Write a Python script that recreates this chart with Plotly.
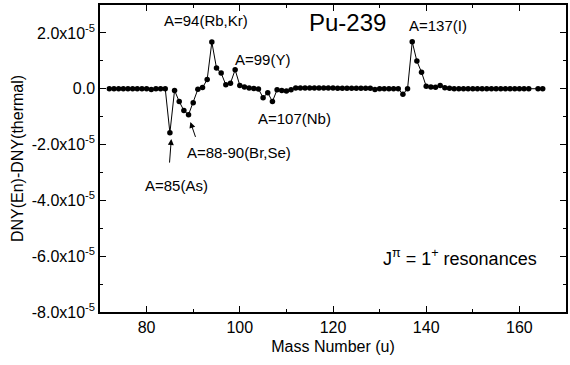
import plotly.graph_objects as go

mass = list(range(72, 163)) + [164, 165]
dny_e6 = (
    [0.0] * 9 + [-0.3, 0.0, 0.0, 0.0]          # 72-84
    + [-15.8, -0.6, -4.6, -7.8, -9.3, -5.0, -0.2, 0.4, 3.3,   # 85-93
       16.7, 7.4, 5.6, 1.4, 2.0, 6.8, 1.2, 0.6, 0.25, 0.1,   # 94-103
       -0.1, -3.2, -1.4, -4.6, -0.35, -0.6, -0.8, -0.35, 0.3]  # 104-112
    + [0.25] * 8 + [0.2] * 8 + [-0.3] + [0.0] * 5       # 113-134
    + [-2.0, 0.0, 16.8, 9.9, 5.9, 0.9, 0.6, 0.5, 1.2, 0.35, 0.2]  # 135-145
    + [0.0] * 17 + [0.0, 0.0]                      # 146-162, 164-165
)
dny = [v * 1e-6 for v in dny_e6]

ytick_vals = [-8e-5, -6e-5, -4e-5, -2e-5, 0.0, 2e-5]
ytick_text = ["-8.0x10<sup>-5</sup>", "-6.0x10<sup>-5</sup>", "-4.0x10<sup>-5</sup>",
              "-2.0x10<sup>-5</sup>", "0.0", "2.0x10<sup>-5</sup>"]

labels = [
    ("A=94(Rb,Kr)", 92.8, 2.46e-5),
    ("A=99(Y)", 104.9, 1.04e-5),
    ("A=107(Nb)", 111.7, -1.08e-5),
    ("A=88-90(Br,Se)", 99.9, -2.28e-5),
    ("A=85(As)", 86.4, -3.48e-5),
    ("A=137(I)", 142.6, 2.28e-5),
]
arrows = [
    (85.3, -1.80e-5, 84.9, -2.70e-5),
    (89.4, -1.19e-5, 90.6, -1.78e-5),
]

FONT = "Liberation Sans, Arial, sans-serif"

fig = go.Figure()
fig.add_trace(go.Scatter(
    x=mass, y=dny, mode="lines+markers",
    line=dict(color="black", width=1),
    marker=dict(color="black", size=5.5),
    showlegend=False,
))

for txt, x, y in labels:
    fig.add_annotation(x=x, y=y, text=txt, showarrow=False,
                       font=dict(size=15, color="black", family=FONT))
for hx, hy, tx, ty in arrows:
    fig.add_annotation(x=hx, y=hy, ax=tx, ay=ty, axref="x", ayref="y",
                       text="", showarrow=True, arrowhead=2, arrowsize=1.2,
                       arrowwidth=1, arrowcolor="black")

fig.add_annotation(x=123.2, y=2.38e-5, text="Pu-239", showarrow=False,
                   font=dict(size=24, color="black", family=FONT))
fig.add_annotation(x=147.3, y=-6.06e-5,
                   text="J<sup>π</sup> = 1<sup>+</sup> resonances", showarrow=False,
                   font=dict(size=18, color="black", family=FONT))

axis_common = dict(
    showgrid=False, zeroline=False, showline=True, linecolor="black", linewidth=1.5,
    mirror="allticks", ticks="inside", ticklen=6, tickwidth=1.2, tickcolor="black",
    tickfont=dict(size=16, color="black", family=FONT),
)
fig.update_xaxes(range=[70, 170], dtick=20, tick0=0,
                 minor=dict(dtick=10, ticks="inside", ticklen=3, tickcolor="black", tickwidth=1),
                 title=dict(text="Mass Number (u)", font=dict(size=16, color="black", family=FONT),
                            standoff=6),
                 **axis_common)
fig.update_yaxes(range=[-8e-5, 3e-5], tickvals=ytick_vals, ticktext=ytick_text,
                 minor=dict(tickvals=[-7e-5, -5e-5, -3e-5, -1e-5, 1e-5, 3e-5],
                            ticks="inside", ticklen=3, tickcolor="black", tickwidth=1),
                 title=dict(text="DNY(En)-DNY(thermal)", font=dict(size=16, color="black", family=FONT),
                            standoff=4),
                 **axis_common)

fig.update_layout(
    width=570, height=365,
    margin=dict(l=100, r=2, t=5, b=53),
    plot_bgcolor="white", paper_bgcolor="white",
    font=dict(family=FONT, color="black"),
)

fig.write_html("out.html")
